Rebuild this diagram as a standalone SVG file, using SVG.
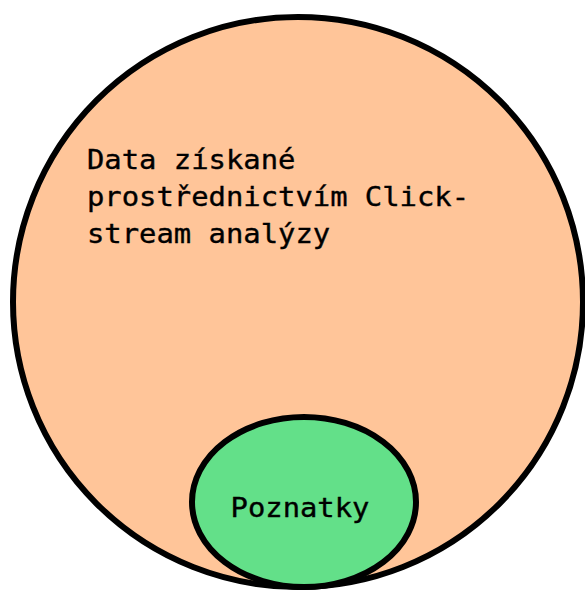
<svg xmlns="http://www.w3.org/2000/svg" width="585" height="592" viewBox="0 0 585 592">
  <style>
    .shape { stroke: #000; stroke-width: 6; }
    .label { font-family: "DejaVu Sans Mono", "Liberation Mono", monospace; font-size: 26px; fill: #000; stroke: #000; stroke-width: 0.35; }
  </style>
  <rect width="585" height="592" fill="#fff"/>
  <g id="data-clickstream">
    <ellipse class="shape" cx="298" cy="302" rx="285" ry="285" fill="#FFC599"/>
    <g transform="translate(87,169) scale(1.11,1)">
      <text class="label" x="0" y="0">Data získané</text>
      <text class="label" x="0" y="37">prostřednictvím Click-</text>
      <text class="label" x="0" y="74">stream analýzy</text>
    </g>
  </g>
  <g id="poznatky">
    <ellipse class="shape" cx="304" cy="502" rx="112" ry="85" fill="#63E089"/>
    <g transform="translate(300,517) scale(1.11,1)">
      <text class="label" x="0" y="0" text-anchor="middle">Poznatky</text>
    </g>
  </g>
  <g id="connectors"/>
</svg>
